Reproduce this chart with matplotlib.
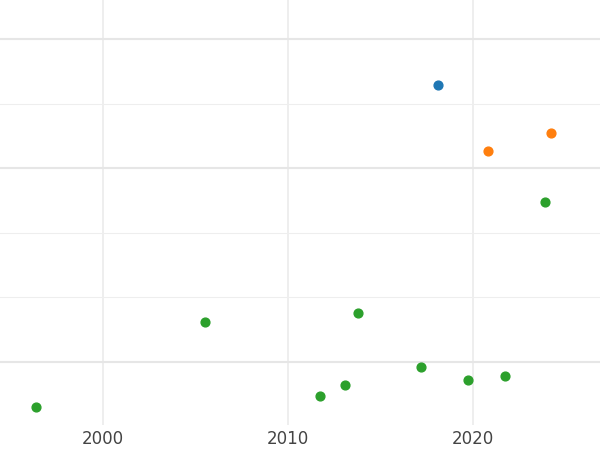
import matplotlib
matplotlib.use("Agg")
import matplotlib.pyplot as plt

blue_x = [2018.1]; blue_y = [4.29]
orange_x = [2020.8, 2024.2]; orange_y = [3.27, 3.55]
green_x = [1996.4, 2005.5, 2011.7, 2013.1, 2013.8, 2017.2, 2019.7, 2021.7, 2023.9]
green_y = [-0.71, 0.62, -0.54, -0.36, 0.76, -0.09, -0.28, -0.22, 2.48]
xticks = [2000, 2010, 2020]

fig = plt.figure(figsize=(6, 4.5), dpi=100)
ax = fig.add_axes([0, 0.056, 1, 0.944])
ax.set_xlim(1994.43, 2026.86)
ax.set_ylim(-0.98, 5.61)
ax.set_xticks(xticks)
ax.set_xticklabels([str(t) for t in xticks])
ax.set_xticks([2005, 2015, 2025], minor=True)
ax.set_yticks([0, 3, 5])
ax.set_yticks([1, 2, 4], minor=True)
ax.grid(True, which='major', color='#e6e6e6', lw=1.5)
ax.grid(True, which='minor', axis='y', color='#eeeeee', lw=0.8)
ax.grid(True, which='major', axis='x', color='#ebebeb', lw=1.2)
ax.set_axisbelow(True)
for s in ax.spines.values():
    s.set_visible(False)
ax.tick_params(axis='both', which='both', length=0, labelsize=12, colors='#444444')
ax.tick_params(axis='y', labelleft=False)
ax.scatter(blue_x, blue_y, color='#1f77b4', s=40, zorder=3)
ax.scatter(orange_x, orange_y, color='#ff7f0e', s=40, zorder=3)
ax.scatter(green_x, green_y, color='#2ca02c', s=40, zorder=3)
fig.savefig("out.png", dpi=100)
